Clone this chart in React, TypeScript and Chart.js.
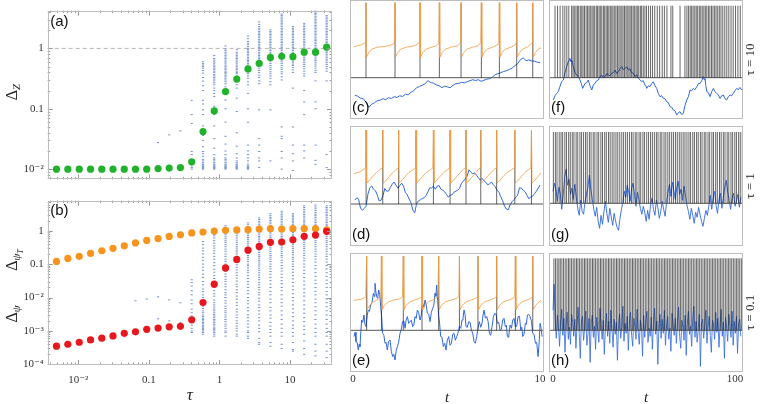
import React, { useEffect, useRef } from "react";
import { Chart, registerables } from "chart.js";

const SERIF = '"Liberation Serif", "DejaVu Serif", serif';
const SANS = '"Liberation Sans", Arial, sans-serif';
const FRAME = "#bdbdbd";

// ================= LEFT PANELS (a), (b) =================
const tau = [0.0049, 0.0071, 0.0103, 0.0149, 0.0215, 0.031, 0.0448, 0.0646, 0.0932, 0.135, 0.194, 0.28, 0.405, 0.585, 0.844, 1.22, 1.76, 2.54, 3.66, 5.28, 7.63, 11.0, 15.9, 23.0, 33.1];
const deltaZ = [0.01, 0.01, 0.01, 0.01, 0.01, 0.01, 0.01, 0.01, 0.01, 0.0102, 0.0104, 0.0106, 0.01325, 0.042, 0.092, 0.193, 0.31, 0.457, 0.565, 0.71, 0.74, 0.73, 0.865, 0.865, 1.05];
const deltaPsiT = [0.12, 0.147, 0.17, 0.21, 0.25, 0.295, 0.35, 0.43, 0.51, 0.58, 0.67, 0.75, 0.855, 0.91, 0.97, 1.02, 1.05, 1.07, 1.12, 1.14, 1.12, 1.14, 1.14, 1.14, 1.05];
const deltaPsi = [3.5e-4, 4.0e-4, 4.6e-4, 5.4e-4, 6.1e-4, 7.1e-4, 8.5e-4, 9.4e-4, 1.12e-3, 1.22e-3, 1.33e-3, 1.38e-3, 2.15e-3, 7.1e-3, 0.025, 0.0766, 0.138, 0.26, 0.337, 0.447, 0.457, 0.53, 0.675, 0.74, 0.955];

const spreadZ: number[][] = [
  [], [], [], [], [], [], [], [], [],
  [0.0275],
  [0.037],
  [0.043],
  [0.01, 0.0106, 0.0113, 0.0121, 0.0128, 0.014, 0.0174, 0.0196, 0.057, 0.08, 0.138],
  [0.01, 0.0103, 0.0106, 0.011, 0.0113, 0.0117, 0.0121, 0.0128, 0.0137, 0.0145, 0.0163, 0.018, 0.0196, 0.0235, 0.03, 0.036, 0.052, 0.08, 0.096, 0.12, 0.138, 0.2, 0.24, 0.287, 0.33, 0.39, 0.43, 0.47, 0.5, 0.53, 0.56, 0.6],
  [0.01, 0.0103, 0.0106, 0.011, 0.0113, 0.0117, 0.0121, 0.0128, 0.0137, 0.0145, 0.0153, 0.0174, 0.0222, 0.032, 0.052, 0.08, 0.11, 0.16, 0.18, 0.2, 0.22, 0.25, 0.27, 0.29, 0.31, 0.33, 0.35, 0.37, 0.4, 0.42, 0.45, 0.47, 0.5, 0.53, 0.57, 0.6, 0.64, 0.68, 0.76],
  [0.01, 0.0103, 0.0106, 0.011, 0.0113, 0.0117, 0.0121, 0.0128, 0.0137, 0.0145, 0.0153, 0.0174, 0.02, 0.026, 0.035, 0.06, 0.1, 0.14, 0.2, 0.23, 0.26, 0.28, 0.3, 0.32, 0.34, 0.36, 0.38, 0.4, 0.42, 0.45, 0.47, 0.5, 0.53, 0.57, 0.6, 0.64, 0.68, 0.72, 0.76, 0.81, 0.86, 0.92, 0.98, 1.1],
  [0.01, 0.0103, 0.0106, 0.011, 0.0113, 0.0117, 0.0121, 0.0128, 0.0137, 0.0153, 0.018, 0.024, 0.04, 0.09, 0.15, 0.22, 0.25, 0.28, 0.3, 0.33, 0.35, 0.38, 0.4, 0.42, 0.45, 0.47, 0.5, 0.53, 0.57, 0.6, 0.64, 0.68, 0.72, 0.76, 0.81, 0.86, 0.95],
  [0.01, 0.0103, 0.0106, 0.011, 0.0113, 0.0121, 0.0137, 0.0153, 0.0174, 0.02, 0.025, 0.06, 0.1, 0.18, 0.25, 0.28, 0.32, 0.35, 0.38, 0.41, 0.44, 0.47, 0.5, 0.53, 0.56, 0.6, 0.63, 0.67, 0.7, 0.75, 0.8, 0.85, 0.9, 0.95, 1.0, 1.07, 1.15, 1.22, 1.3, 1.45, 1.6],
  [0.0106, 0.0137, 0.0153, 0.0196, 0.025, 0.032, 0.096, 0.26, 0.29, 0.33, 0.36, 0.4, 0.43, 0.47, 0.5, 0.53, 0.57, 0.6, 0.64, 0.68, 0.72, 0.76, 0.81, 0.86, 0.92, 0.98, 1.04, 1.1, 1.17, 1.25, 1.32, 1.4, 1.5, 1.6, 1.7, 1.8, 1.9, 2.03, 2.15, 2.3, 2.5, 2.75],
  [0.0137, 0.096, 0.25, 0.28, 0.32, 0.35, 0.38, 0.41, 0.45, 0.48, 0.52, 0.56, 0.6, 0.64, 0.68, 0.72, 0.76, 0.81, 0.86, 0.92, 0.98, 1.04, 1.1, 1.17, 1.25, 1.32, 1.4, 1.5, 1.6, 1.7, 1.8, 1.9, 2.03],
  [0.01, 0.0153, 0.0196, 0.032, 0.035, 0.05, 0.3, 0.34, 0.38, 0.41, 0.45, 0.48, 0.52, 0.56, 0.6, 0.64, 0.68, 0.72, 0.76, 0.81, 0.86, 0.92, 0.98, 1.04, 1.1, 1.17, 1.25, 1.32, 1.4, 1.5, 1.6, 1.7, 1.8, 1.9, 2.03, 2.15, 2.3, 2.45, 2.6, 2.75, 2.93, 3.1, 3.3, 3.5, 3.7],
  [0.0095, 0.0137, 0.018, 0.025, 0.05, 0.22, 0.4, 0.44, 0.48, 0.52, 0.55, 0.59, 0.62, 0.66, 0.7, 0.74, 0.78, 0.82, 0.86, 0.92, 0.98, 1.04, 1.1, 1.17, 1.25, 1.32, 1.4, 1.5, 1.6, 1.7, 1.8, 1.9, 2.03, 2.15, 2.3],
  [0.0153, 0.02, 0.025, 0.08, 0.13, 0.2, 0.35, 0.38, 0.42, 0.46, 0.5, 0.54, 0.58, 0.62, 0.66, 0.7, 0.75, 0.8, 0.85, 0.9, 0.95, 1.02, 1.1, 1.17, 1.25, 1.32, 1.4, 1.5, 1.6, 1.7, 1.8, 1.9, 2.03, 2.15, 2.3, 2.45, 2.6],
  [0.012, 0.014, 0.025, 0.1, 0.13, 0.29, 0.4, 0.43, 0.47, 0.51, 0.55, 0.59, 0.63, 0.67, 0.72, 0.77, 0.82, 0.87, 0.93, 0.99, 1.05, 1.12, 1.2, 1.27, 1.35, 1.42, 1.5, 1.6, 1.7, 1.8, 1.9, 2.02, 2.15, 2.27, 2.4, 2.55, 2.7, 2.85, 3.0, 3.2, 3.4, 3.6, 3.8, 4.0, 4.2],
  [0.0106, 0.0174, 0.29, 0.42, 0.46, 0.5, 0.54, 0.58, 0.62, 0.66, 0.7, 0.75, 0.8, 0.85, 0.9, 0.95, 1.02, 1.1, 1.17, 1.25, 1.32, 1.4, 1.5, 1.6, 1.7, 1.8, 1.9, 2.03, 2.15, 2.3, 2.45, 2.6, 2.75, 2.93, 3.1, 3.3, 3.5],
];

const spreadPsi: number[][] = [
  [], [], [], [], [], [], [],
  [0.008],
  [0.009],
  [0.0105, 0.0023],
  [0.0085, 0.002],
  [0.007, 0.0018, 0.0015],
  [0.034, 0.028, 0.022, 0.016, 0.012, 0.0084, 0.0065, 0.0045, 0.0035, 0.0028, 0.0022, 0.0018, 0.0015, 0.0012, 0.001, 0.0009],
  [0.47, 0.38, 0.3, 0.25, 0.2, 0.16, 0.13, 0.1, 0.08, 0.065, 0.05, 0.04, 0.03, 0.024, 0.018, 0.015, 0.012, 0.01, 0.008, 0.0065, 0.0055, 0.0047, 0.004, 0.0035, 0.003, 0.0027, 0.0024, 0.0022, 0.002, 0.0018, 0.0017, 0.0015, 0.0014, 0.0013, 0.0012, 0.0011, 0.001, 0.0009, 0.0008],
  [0.9, 0.78, 0.7, 0.6, 0.5, 0.42, 0.35, 0.3, 0.25, 0.21, 0.17, 0.14, 0.11, 0.09, 0.07, 0.057, 0.045, 0.037, 0.03, 0.025, 0.02, 0.016, 0.013, 0.011, 0.0084, 0.007, 0.006, 0.0052, 0.0045, 0.004, 0.0035, 0.0031, 0.0028, 0.0025, 0.0022, 0.002, 0.0018, 0.0016, 0.0015, 0.0013, 0.0012, 0.0011, 0.001, 0.0009, 0.0008, 0.0007],
  [1.4, 1.25, 1.1, 0.97, 0.85, 0.75, 0.65, 0.57, 0.5, 0.44, 0.38, 0.33, 0.28, 0.24, 0.2, 0.17, 0.14, 0.12, 0.1, 0.085, 0.07, 0.06, 0.05, 0.042, 0.035, 0.03, 0.025, 0.021, 0.017, 0.014, 0.012, 0.01, 0.008, 0.0068, 0.0055, 0.0047, 0.004, 0.0035, 0.003, 0.0026, 0.0022, 0.0019, 0.0016, 0.0014, 0.0012, 0.001, 0.0009, 0.0007],
  [1.0, 0.9, 0.8, 0.7, 0.6, 0.52, 0.45, 0.39, 0.34, 0.3, 0.26, 0.23, 0.2, 0.17, 0.15, 0.13, 0.11, 0.095, 0.08, 0.067, 0.055, 0.046, 0.038, 0.031, 0.025, 0.021, 0.017, 0.014, 0.011, 0.009, 0.007, 0.0058, 0.0045, 0.0037, 0.003, 0.0025, 0.002, 0.0017, 0.0014, 0.0012, 0.001, 0.0008, 0.0007],
  [1.7, 1.5, 1.3, 1.15, 1.0, 0.9, 0.8, 0.7, 0.62, 0.55, 0.48, 0.42, 0.37, 0.32, 0.28, 0.24, 0.21, 0.18, 0.16, 0.14, 0.12, 0.1, 0.09, 0.077, 0.065, 0.055, 0.045, 0.037, 0.03, 0.025, 0.02, 0.016, 0.013, 0.01, 0.008, 0.0065, 0.005, 0.004, 0.003, 0.0025, 0.002, 0.0016, 0.0013, 0.001, 0.0009, 0.0007, 0.0006],
  [2.4, 2.15, 1.9, 1.7, 1.5, 1.35, 1.2, 1.07, 0.95, 0.85, 0.75, 0.67, 0.6, 0.53, 0.47, 0.42, 0.37, 0.33, 0.29, 0.25, 0.22, 0.19, 0.17, 0.15, 0.13, 0.115, 0.1, 0.087, 0.075, 0.065, 0.055, 0.047, 0.04, 0.034, 0.028, 0.024, 0.02, 0.017, 0.014, 0.012, 0.0095, 0.0078, 0.006, 0.005, 0.004, 0.0032, 0.0025, 0.002, 0.0015, 0.0012, 0.00095, 0.0006, 0.00045, 0.0004],
  [3.2, 2.8, 2.5, 2.25, 2.0, 1.8, 1.6, 1.42, 1.25, 1.12, 1.0, 0.9, 0.8, 0.7, 0.62, 0.55, 0.48, 0.42, 0.37, 0.32, 0.28, 0.24, 0.21, 0.18, 0.16, 0.14, 0.12, 0.1, 0.085, 0.072, 0.06, 0.05, 0.04, 0.032, 0.025, 0.02, 0.015, 0.012, 0.009, 0.007, 0.005, 0.004, 0.003, 0.0024, 0.0018, 0.0014, 0.0011, 0.0009, 0.0007, 0.00045, 0.00035],
  [3.8, 3.4, 3.0, 2.7, 2.4, 2.15, 1.9, 1.7, 1.5, 1.35, 1.2, 1.07, 0.95, 0.85, 0.75, 0.67, 0.6, 0.53, 0.47, 0.42, 0.37, 0.32, 0.28, 0.24, 0.21, 0.18, 0.16, 0.13, 0.11, 0.09, 0.075, 0.062, 0.05, 0.04, 0.032, 0.026, 0.02, 0.016, 0.012, 0.009, 0.007, 0.0055, 0.004, 0.003, 0.0022, 0.0016, 0.0012, 0.0009, 0.0007, 0.0004, 0.0003],
  [3.2, 2.9, 2.6, 2.35, 2.1, 1.9, 1.7, 1.5, 1.35, 1.22, 1.1, 0.98, 0.88, 0.78, 0.7, 0.62, 0.55, 0.49, 0.43, 0.38, 0.33, 0.29, 0.25, 0.22, 0.19, 0.16, 0.14, 0.12, 0.1, 0.085, 0.07, 0.057, 0.045, 0.036, 0.028, 0.022, 0.017, 0.013, 0.01, 0.008, 0.006, 0.0046, 0.0035, 0.0027, 0.002, 0.0015, 0.0012, 0.0009, 0.0007, 0.00045, 0.00028, 0.00025],
  [5.5, 4.9, 4.3, 3.8, 3.4, 3.0, 2.7, 2.4, 2.1, 1.9, 1.7, 1.5, 1.35, 1.2, 1.05, 0.93, 0.82, 0.73, 0.64, 0.57, 0.5, 0.44, 0.38, 0.33, 0.29, 0.25, 0.21, 0.18, 0.15, 0.125, 0.1, 0.082, 0.065, 0.052, 0.04, 0.031, 0.024, 0.018, 0.014, 0.011, 0.008, 0.006, 0.0045, 0.0034, 0.0025, 0.0019, 0.0014, 0.0011, 0.0008, 0.0005, 0.0003, 0.0002],
  [5.8, 5.1, 4.5, 4.0, 3.5, 3.1, 2.8, 2.5, 2.2, 1.95, 1.75, 1.55, 1.4, 1.25, 1.1, 0.97, 0.85, 0.75, 0.66, 0.58, 0.5, 0.44, 0.38, 0.33, 0.28, 0.24, 0.2, 0.17, 0.14, 0.115, 0.09, 0.072, 0.055, 0.043, 0.033, 0.026, 0.02, 0.015, 0.012, 0.009, 0.007, 0.0053, 0.004, 0.003, 0.0022, 0.0016, 0.0012, 0.0009, 0.0007, 0.0004, 0.00025, 0.00018],
  [5.5, 4.9, 4.4, 3.9, 3.5, 3.1, 2.8, 2.5, 2.2, 1.95, 1.75, 1.55, 1.4, 1.25, 1.1, 0.97, 0.85, 0.75, 0.66, 0.58, 0.5, 0.44, 0.38, 0.33, 0.28, 0.24, 0.2, 0.17, 0.14, 0.115, 0.09, 0.072, 0.055, 0.043, 0.033, 0.026, 0.02, 0.015, 0.012, 0.009, 0.007, 0.0053, 0.004, 0.003, 0.0022, 0.0016, 0.0012, 0.0009, 0.0007, 0.0004, 0.00025, 0.00016],
];

const tauTicks = [0.01, 0.1, 1, 10];
const zTicks = [0.01, 0.1, 1];
const psiTicks = [1e-4, 1e-3, 1e-2, 0.1, 1];

// ================= RIGHT PANELS (c)-(h) =================
const spikesC = [0.695, 2.246, 3.583, 4.617, 5.775, 6.862, 7.825, 8.752, 9.608];
const spikesD = [0.70, 1.59, 2.44, 3.37, 4.30, 5.19, 6.04, 6.83, 7.68, 8.65, 9.54];
const spikesE = [0.73, 1.52, 2.69, 3.69, 4.58, 5.69, 6.68, 7.68, 8.68, 9.61];

const orangeC = [
  [0.05, 3.1], [0.45, 3.3], [0.66, 3.5], [0.695, 7.5], [0.72, 2.05], [0.84, 2.5], [1.0, 2.85], [1.3, 3.05], [1.8, 3.15], [2.1, 3.3], [2.21, 3.5],
  [2.246, 7.5], [2.27, 2.05], [2.39, 2.5], [2.55, 2.85], [2.85, 3.05], [3.3, 3.2], [3.55, 3.5],
  [3.583, 7.5], [3.61, 2.05], [3.73, 2.5], [3.9, 2.85], [4.2, 3.05], [4.45, 3.2], [4.585, 3.5],
  [4.617, 7.5], [4.64, 2.05], [4.76, 2.5], [4.93, 2.85], [5.25, 3.05], [5.6, 3.2], [5.745, 3.5],
  [5.775, 7.5], [5.8, 2.05], [5.92, 2.5], [6.08, 2.85], [6.4, 3.05], [6.7, 3.2], [6.83, 3.5],
  [6.862, 7.5], [6.89, 2.05], [7.0, 2.5], [7.17, 2.85], [7.45, 3.05], [7.7, 3.25], [7.795, 3.5],
  [7.825, 7.5], [7.85, 2.05], [7.97, 2.5], [8.13, 2.85], [8.45, 3.05], [8.65, 3.25], [8.72, 3.5],
  [8.752, 7.5], [8.78, 2.05], [8.9, 2.5], [9.06, 2.85], [9.35, 3.1], [9.57, 3.5],
  [9.608, 7.5], [9.635, 2.05], [9.75, 2.5], [9.9, 2.85], [10.05, 3.0],
];
const orangeD = [
  [0.05, 3.05], [0.35, 3.2], [0.55, 3.45], [0.67, 3.6], [0.70, 7.4], [0.73, 2.1], [0.85, 2.3], [1.05, 2.75], [1.25, 3.15], [1.44, 3.45], [1.56, 3.6],
  [1.59, 7.4], [1.62, 2.1], [1.74, 2.3], [1.94, 2.75], [2.14, 3.15], [2.30, 3.45], [2.41, 3.6],
  [2.44, 7.4], [2.47, 2.1], [2.59, 2.3], [2.79, 2.75], [2.99, 3.15], [3.22, 3.45], [3.34, 3.6],
  [3.37, 7.4], [3.40, 2.1], [3.52, 2.3], [3.72, 2.75], [3.92, 3.15], [4.15, 3.45], [4.27, 3.6],
  [4.30, 7.4], [4.33, 2.1], [4.45, 2.3], [4.65, 2.75], [4.85, 3.15], [5.04, 3.45], [5.16, 3.6],
  [5.19, 7.4], [5.22, 2.1], [5.34, 2.3], [5.54, 2.75], [5.74, 3.15], [5.89, 3.45], [6.01, 3.6],
  [6.04, 7.4], [6.07, 2.1], [6.19, 2.3], [6.39, 2.75], [6.59, 3.15], [6.68, 3.45], [6.80, 3.6],
  [6.83, 7.4], [6.86, 2.1], [6.98, 2.3], [7.18, 2.75], [7.38, 3.15], [7.53, 3.45], [7.65, 3.6],
  [7.68, 7.4], [7.71, 2.1], [7.83, 2.3], [8.03, 2.75], [8.23, 3.15], [8.50, 3.45], [8.62, 3.6],
  [8.65, 7.4], [8.68, 2.1], [8.80, 2.3], [9.00, 2.75], [9.20, 3.15], [9.39, 3.45], [9.51, 3.6],
  [9.54, 7.4], [9.57, 2.1], [9.69, 2.3], [9.89, 2.75], [10.05, 3.1],
];
const orangeE = [
  [0.05, 3.0], [0.45, 3.1], [0.68, 3.35], [0.73, 7.43], [0.76, 2.05], [0.88, 2.5], [1.1, 2.85], [1.35, 3.1], [1.49, 3.35],
  [1.52, 7.43], [1.55, 2.05], [1.67, 2.5], [1.9, 2.85], [2.2, 3.05], [2.5, 3.15], [2.65, 3.35],
  [2.69, 7.43], [2.72, 2.05], [2.84, 2.5], [3.05, 2.85], [3.35, 3.05], [3.55, 3.2], [3.66, 3.35],
  [3.69, 7.43], [3.72, 2.05], [3.84, 2.5], [4.05, 2.85], [4.35, 3.1], [4.54, 3.35],
  [4.58, 7.43], [4.61, 2.05], [4.73, 2.5], [4.95, 2.85], [5.3, 3.05], [5.55, 3.2], [5.66, 3.35],
  [5.69, 7.43], [5.72, 2.05], [5.84, 2.5], [6.05, 2.85], [6.35, 3.05], [6.55, 3.2], [6.65, 3.35],
  [6.68, 7.43], [6.71, 2.05], [6.83, 2.5], [7.05, 2.85], [7.35, 3.05], [7.55, 3.2], [7.65, 3.35],
  [7.68, 7.43], [7.71, 2.05], [7.83, 2.5], [8.05, 2.85], [8.35, 3.05], [8.55, 3.2], [8.65, 3.35],
  [8.68, 7.43], [8.71, 2.05], [8.83, 2.5], [9.05, 2.85], [9.35, 3.05], [9.5, 3.2], [9.58, 3.35],
  [9.61, 7.43], [9.64, 2.05], [9.76, 2.5], [9.95, 2.85], [10.05, 3.0],
];

const blueCStart = 0.1;
const blueCStep = 0.15;
const blueC = [-1.75, -1.85, -2.05, -2.1, -2.45, -2.95, -2.65, -2.5, -2.3, -2.25, -2.1, -2.2, -2.0, -2.08, -1.9, -1.98, -1.8, -1.88, -1.65, -1.72, -1.45, -1.3, -1.0, -0.88, -0.75, -0.62, -0.3, -0.48, -0.55, -0.72, -0.8, -1.0, -0.85, -0.92, -1.0, -0.75, -0.6, -0.58, -0.45, -0.52, -0.4, -0.3, -0.2, -0.28, -0.2, -0.36, -0.25, -0.15, -0.1, 0.05, 0.3, 0.4, 0.5, 0.62, 0.7, 0.82, 0.95, 1.2, 1.4, 1.8, 1.98, 1.7, 1.78, 1.68, 1.66, 1.55, 1.5];

const blueDStart = 0.1;
const blueDStep = 0.1;
const blueD = [0.4, 0.62, 0.48, -0.4, -0.62, -0.45, -0.22, 1.0, 1.62, 1.8, 1.48, 1.32, 0.88, 0.3, 0.38, 0.82, 1.55, 1.28, 1.3, 1.68, 1.98, 2.2, 1.88, 1.58, 1.85, 2.08, 1.78, 1.15, 0.92, 0.5, 0.12, -0.6, -0.88, 0.05, 0.32, 0.42, 0.55, 0.62, 0.82, 1.2, 1.62, 1.6, 1.78, 1.48, 1.78, 1.85, 1.48, 1.38, 1.22, 0.95, 0.68, 0.88, 0.92, 1.18, 1.28, 1.38, 1.58, 2.08, 2.28, 2.52, 2.78, 3.42, 3.18, 3.02, 3.12, 2.88, 2.62, 2.38, 2.58, 2.32, 2.18, 1.92, 2.02, 2.2, 1.92, 1.72, 1.38, 1.18, 0.72, 0.32, -0.22, -0.5, -0.58, -0.08, 0.22, 0.42, 0.68, 0.88, 1.62, 1.58, 1.38, 1.22, 0.88, 0.52, 0.72, 0.78, 1.02, 1.28, 1.58, 1.9];

const blueE = [
  [0.05, -0.63], [0.11, -0.2], [0.16, -1.13], [0.22, -1.2], [0.285, -1.97], [0.33, -1.4], [0.374, -1.63], [0.42, -0.1], [0.463, 1.03], [0.52, 0.8], [0.588, 1.53], [0.64, 0.6], [0.695, 0.37], [0.76, 1.5], [0.82, 2.03], [0.88, 1.9], [0.945, 2.53], [1.02, 2.8], [1.088, 3.7], [1.13, 3.4], [1.176, 4.7], [1.22, 3.9], [1.266, 3.37], [1.32, 3.2], [1.373, 4.03], [1.43, 3.6], [1.48, 2.37], [1.53, 1.4], [1.587, -0.3], [1.65, -0.5], [1.711, -1.3], [1.77, -1.2], [1.836, -1.97], [1.9, -1.1], [1.979, -0.97], [2.05, -2.1], [2.121, -2.63], [2.18, -2.4], [2.246, -2.97], [2.31, -2.0], [2.37, -1.63], [2.44, -1.2], [2.513, -0.3], [2.58, 0.1], [2.656, 0.87], [2.72, 0.9], [2.78, 0.2], [2.84, 1.0], [2.906, 1.37], [2.98, 0.7], [3.048, 0.87], [3.12, 1.0], [3.19, 0.37], [3.25, 0.5], [3.315, 1.37], [3.38, 1.2], [3.44, 2.03], [3.51, 1.8], [3.583, 1.03], [3.65, 1.5], [3.725, 2.7], [3.79, 2.3], [3.85, 3.03], [3.91, 2.6], [3.975, 1.7], [4.05, 1.6], [4.118, 0.87], [4.19, 1.8], [4.26, 2.2], [4.32, 2.5], [4.385, 3.7], [4.43, 3.4], [4.474, 4.53], [4.53, 2.9], [4.581, 1.37], [4.63, 0.7], [4.688, -0.63], [4.76, -0.7], [4.83, -1.63], [4.9, -1.3], [4.973, -1.97], [5.04, -1.0], [5.116, -0.63], [5.19, -1.5], [5.258, -1.3], [5.33, -0.4], [5.401, -0.3], [5.47, -1.0], [5.544, -0.63], [5.61, -0.3], [5.686, 0.37], [5.76, 0.2], [5.829, 1.03], [5.88, 1.2], [5.936, 2.03], [5.99, 1.6], [6.043, 0.37], [6.11, 0.3], [6.185, 0.87], [6.26, 0.8], [6.328, 0.03], [6.4, -0.3], [6.471, -1.13], [6.54, -1.3], [6.613, -0.63], [6.68, 0.2], [6.756, 0.87], [6.83, 0.3], [6.898, 0.7], [6.95, 1.5], [7.005, 2.03], [7.08, 1.2], [7.148, 1.37], [7.22, 0.9], [7.291, -0.3], [7.36, -0.5], [7.433, 0.37], [7.5, 1.3], [7.576, 1.7], [7.65, 1.6], [7.718, 0.7], [7.79, 0.8], [7.861, 0.03], [7.93, 0.1], [8.004, 1.03], [8.07, 1.2], [8.146, 0.37], [8.2, 0.5], [8.253, -0.63], [8.32, -0.7], [8.396, 0.53], [8.47, 0.2], [8.538, 1.03], [8.61, 1.2], [8.681, 0.37], [8.75, 0.4], [8.824, 1.37], [8.9, 1.4], [8.966, 0.03], [9.02, 0.3], [9.073, -0.63], [9.14, -0.4], [9.215, 0.7], [9.27, 0.6], [9.322, 1.53], [9.39, 1.6], [9.465, 1.37], [9.54, 0.9], [9.608, -0.3], [9.68, -0.4], [9.75, -1.3], [9.82, -1.2], [9.893, -2.63], [9.95, -1.3], [10.0, 0.7], [10.05, 0.3], [10.107, -0.63],
];

const spikesF = [1.1, 2.5, 3.9, 5.4, 6.5, 7.6, 8.7, 10.2, 11.0, 11.7, 12.6, 13.4, 14.1, 15.0, 15.8, 16.5, 17.3, 18.2, 19.0, 19.8, 20.5, 21.4, 22.1, 22.9, 23.8, 24.5, 25.3, 26.0, 26.8, 27.7, 28.4, 29.2, 30.0, 30.7, 31.5, 32.3, 33.0, 33.9, 34.6, 35.4, 36.2, 36.9, 37.8, 38.5, 39.3, 40.1, 40.8, 41.7, 42.4, 43.2, 44.0, 44.7, 45.6, 46.3, 47.1, 48.0, 48.7, 49.6, 50.5, 51.4, 52.5, 53.6, 54.7, 55.9, 57.3, 58.6, 60.0, 61.2, 62.6, 64.8, 65.8, 69.8, 72.5, 73.6, 74.5, 75.4, 76.2, 77.0, 77.9, 78.7, 79.5, 80.4, 81.2, 82.0, 82.9, 83.7, 84.5, 85.4, 86.2, 87.1, 87.9, 88.8, 89.6, 90.5, 91.4, 92.3, 93.3, 94.4, 95.5, 96.6, 97.8, 99.0, 100.3, 101.6, 102.9];
const spikesG = [0.2, 1.3, 2.2, 3.4, 4.4, 5.3, 6.5, 7.4, 8.6, 9.5, 10.6, 11.5, 12.7, 13.6, 14.8, 15.7, 16.8, 17.9, 18.8, 20.0, 20.9, 22.1, 23.0, 24.2, 25.1, 26.3, 27.2, 28.4, 29.3, 30.5, 31.4, 32.5, 33.5, 34.6, 35.6, 36.7, 37.8, 38.8, 39.9, 40.9, 42.0, 43.1, 44.0, 45.2, 46.1, 47.3, 48.2, 49.4, 50.3, 51.5, 52.5, 53.6, 54.6, 55.7, 56.8, 57.7, 58.9, 59.8, 61.0, 62.0, 63.1, 64.1, 65.2, 66.2, 67.3, 68.3, 69.4, 70.4, 71.5, 72.5, 73.6, 74.7, 75.6, 76.8, 77.7, 78.9, 79.8, 81.0, 81.9, 83.1, 84.0, 85.2, 86.1, 87.3, 88.2, 89.4, 90.3, 91.5, 92.4, 93.6, 94.5, 95.7, 96.6, 97.8, 98.7, 99.9, 100.8, 102.0, 102.9, 104.0];
const spikesH = [0.5, 1.4, 2.3, 3.2, 4.0, 4.9, 5.8, 6.7, 7.6, 8.5, 9.3, 10.2, 11.1, 12.0, 12.9, 13.7, 14.6, 15.5, 16.4, 17.3, 18.1, 19.0, 19.9, 20.8, 21.7, 22.5, 23.4, 24.3, 25.2, 26.1, 26.9, 27.8, 28.7, 29.6, 30.5, 31.3, 32.2, 33.1, 34.0, 34.9, 35.7, 36.6, 37.5, 38.4, 39.3, 40.1, 41.0, 41.9, 42.8, 43.7, 44.5, 45.4, 46.3, 47.2, 48.1, 48.9, 49.8, 50.7, 51.6, 52.5, 53.3, 54.2, 55.1, 56.0, 56.9, 57.7, 58.6, 59.5, 60.4, 61.3, 62.1, 63.0, 63.9, 64.8, 65.7, 66.5, 67.4, 68.3, 69.2, 70.1, 70.9, 71.8, 72.7, 73.6, 74.5, 75.3, 76.2, 77.1, 78.0, 78.9, 79.7, 80.6, 81.5, 82.4, 83.3, 84.1, 85.0, 85.9, 86.8, 87.7, 88.5, 89.4, 90.3, 91.2, 92.1, 92.9, 93.8, 94.7, 95.6, 96.5, 97.3, 98.2, 99.1, 100.0, 100.9, 101.7, 102.6, 103.5];

const blueF = [
  [0.2, -2.23], [1.1, -1.8], [2.0, -1.57], [2.9, -1.4], [3.8, -0.9], [4.7, -0.4], [5.7, -0.23], [6.6, 0.5], [7.5, 1.1], [8.4, 1.6], [9.3, 1.93], [9.8, 1.6], [10.3, 1.77], [10.8, 1.3], [11.2, 1.1], [12.1, 0.5], [13.0, 0.27], [13.9, 0.1], [14.8, -0.23], [15.6, -0.6], [16.3, -1.07], [17.0, -0.8], [17.6, -0.57], [18.5, -0.5], [19.4, -0.23], [20.3, -0.8], [21.3, -1.23], [22.2, -0.7], [23.1, -0.57], [24.0, -0.3], [24.9, -0.23], [25.8, 0.1], [26.7, 0.27], [27.6, 0.0], [28.6, 0.1], [29.5, 0.4], [30.4, 0.27], [31.3, 0.2], [32.2, 0.43], [33.1, 0.5], [34.1, 0.77], [35.0, 0.4], [35.9, 0.6], [36.8, 0.9], [37.7, 1.1], [38.6, 0.8], [39.6, 0.93], [40.5, 1.1], [41.4, 0.77], [42.3, 0.9], [43.2, 0.5], [44.1, 0.45], [45.1, 0.1], [46.0, 0.3], [46.9, -0.07], [47.8, -0.2], [48.7, -0.4], [49.6, -0.3], [50.5, -0.73], [51.0, -0.8], [51.5, -1.07], [52.4, -0.8], [53.3, -0.9], [54.2, -0.6], [55.1, -0.4], [56.0, -0.8], [57.0, -1.07], [57.9, -1.6], [58.8, -1.9], [59.7, -1.8], [60.6, -2.07], [61.5, -2.1], [62.5, -2.4], [63.4, -2.5], [64.3, -2.9], [65.2, -2.95], [66.1, -3.23], [67.0, -3.3], [68.0, -3.73], [68.9, -3.5], [69.8, -3.4], [70.7, -3.7], [71.6, -3.57], [72.5, -2.8], [73.5, -2.23], [74.4, -1.9], [75.3, -1.23], [76.2, -1.3], [77.1, -1.07], [78.0, -1.2], [79.0, -0.9], [79.9, -0.6], [80.8, -0.57], [81.7, -0.3], [82.6, 0.1], [83.0, -0.2], [83.5, -0.07], [84.0, -0.8], [84.5, -1.4], [85.4, -1.5], [86.3, -1.9], [87.2, -1.4], [88.1, -1.07], [89.0, -1.4], [89.9, -1.57], [90.8, -1.7], [91.8, -2.07], [92.7, -1.8], [93.6, -1.73], [94.5, -2.1], [95.4, -2.23], [96.3, -1.9], [97.3, -1.73], [98.2, -1.8], [99.1, -1.57], [100.0, -1.3], [100.9, -1.07], [101.8, -1.2], [102.7, -0.97], [103.7, -1.23],
];

const blueGStart = 0;
const blueGStep = 0.8;
const blueG = [
  1.2, 2.0, 1.4, 0.2, 1.6, 1.0, -0.6, 0.8, 2.6, 3.4, 1.8, 2.4, 0.9, 1.5, 0.4, 1.9, 0.6,
  -0.5, -1.2, 0.3, -0.8, -1.1, 0.2, 0.9, 1.6, 2.8, 1.4, 0.4,
  -0.6, -1.3, -0.4, -1.8, -2.5, -1.2, -2.1, -0.8, 0.2, -1.0, -1.9, -0.5, -1.4, -2.2, -1.0, -1.8, -2.4, -2.7, -1.5, -0.6, 0.1,
  1.2, 0.6, 1.8, 1.1, 0.2, 1.5, 2.0, 0.8, -0.3, 1.1, 0.4, -0.5,
  -1.1, -0.3, -0.9, -1.8, -0.7, -1.6, -0.2, 0.5, -0.6, -1.2, 0.3, -0.4, -1.5, -0.8, 0.2, -0.6, -1.3, 0.1,
  1.1, 1.9, 0.7, 2.1, 1.3, 0.4, 1.6, 2.2, 0.9, 1.4, 0.3, 1.7, 0.8, -0.2,
  -0.8, -1.6, -0.5, -1.2, -2.0, -0.9, -1.4, -0.4, -1.1, -1.8, -2.3, -1.5, -0.7, -1.2,
  -0.3, 0.8, -0.6, 0.5, 1.2, -0.2, -1.0, 0.4, 1.0, -0.5, 0.6, 1.6, 2.3, 1.1,
  0.3, -0.6, 0.5, 1.0, -0.3, 0.2, 0.9, -0.4, 0.6,
];

const blueHStart = 0;
const blueHStep = 0.6;
const blueH = [
  2.0, 4.6, 1.2, -0.8, 1.5, 0.4, -1.6, 0.9, 2.1, -0.5, 1.2, -2.2, 0.6, 1.8, -0.9, 0.3, -1.4, 1.6, 0.8, -0.6,
  1.1, -1.8, 0.5, 2.3, -0.3, -2.8, 0.9, 1.4, -1.0, 0.2, 1.9, -1.5, -0.4, 1.2, -3.2, 0.7, 1.5, -0.7, 0.4, -1.9,
  1.3, 0.1, -1.2, 2.2, 0.6, -0.9, 1.0, -2.4, 0.3, 1.7, -0.6, 0.9, -1.3, 2.0, 0.2, -1.7, 1.1, -0.4, 0.8, -3.0,
  0.5, 1.6, -0.8, 0.3, 2.4, -1.1, 0.7, -0.3, 1.4, -2.0, 0.9, 1.8, -0.5, -1.6, 1.2, 0.4, -0.9, 2.1, -0.2, -1.4,
  1.0, 0.3, -2.6, 1.5, -0.7, 0.8, 1.9, -1.2, 0.2, -0.6, 1.3, -1.9, 0.6, 2.2, -0.4, 0.9, -3.4, 0.4, 1.6, -0.8,
  1.1, -0.3, 2.0, -1.5, 0.5, 1.4, -0.9, 0.2, -2.1, 1.7, 0.6, -0.5, 1.2, -1.3, 0.8, 2.3, -0.6, -1.8, 1.0, 0.3,
  -1.0, 1.5, -2.5, 0.7, 1.9, -0.4, 0.4, -1.6, 1.3, 2.4, -0.7, 0.9, -1.2, 0.1, 1.6, -3.6, 0.6, 1.1, -0.8, 0.5,
  2.0, -1.3, 0.3, 1.4, -0.5, -2.2, 1.0, 0.6, -0.9, 1.8, -0.2, 1.2, -1.7, 0.4, 2.1, -0.6, 0.8, -2.8, 1.3, 0.2,
  -1.1, 1.6, 0.5, -0.7, 1.9, -1.5, 0.9, -0.3, 1.4, -2.3, 0.7, 1.1, -0.6,
];

const shortTicks = [0, 10];
const longTicks = [0, 100];
const sideLabels = ["τ = 10", "τ = 1", "τ = 0.1"];

// ================= helpers =================
const SUP: Record<string, string> = { "-": "⁻", "0": "⁰", "1": "¹", "2": "²", "3": "³", "4": "⁴" };
function logLabel(v: number) {
  if (v >= 0.1) return String(v);
  const e = Math.round(Math.log10(v));
  return "10" + String(e).split("").map((c) => SUP[c] || c).join("");
}

type Part = { text: string; font: string; dy?: number };
type Lbl = { parts: Part[]; x: number; y: number; rot?: number; align?: "left" | "center"; ref?: "tl" | "bl" | "canvas"; color?: string };

function drawRich(ctx: CanvasRenderingContext2D, lb: Lbl, a: any) {
  let bx = lb.x, by = lb.y;
  if (lb.ref === "tl") { bx = a.left + lb.x; by = a.top + lb.y; }
  if (lb.ref === "bl") { bx = a.left + lb.x; by = a.bottom + lb.y; }
  ctx.save();
  ctx.translate(bx, by);
  if (lb.rot) ctx.rotate(lb.rot);
  ctx.textBaseline = "alphabetic";
  ctx.fillStyle = lb.color || "#222";
  const widths = lb.parts.map((p) => { ctx.font = p.font; return ctx.measureText(p.text).width; });
  const total = widths.reduce((s, w) => s + w, 0);
  let x = lb.align === "center" ? -total / 2 : 0;
  lb.parts.forEach((p, i) => { ctx.font = p.font; ctx.fillText(p.text, x, p.dy || 0); x += widths[i]; });
  ctx.restore();
}

const decorPlugin = {
  id: "decor",
  afterDatasetsDraw(chart: any, _args: any, opts: any) {
    const { ctx, chartArea: a } = chart;
    if (!a || !opts) return;
    ctx.save();
    if (opts.logTicks) {
      ctx.strokeStyle = "#9a9a9a";
      ctx.lineWidth = 1;
      ctx.beginPath();
      for (const id of ["x", "y"]) {
        const s = chart.scales[id];
        const e0 = Math.floor(Math.log10(s.min)), e1 = Math.ceil(Math.log10(s.max));
        for (let e = e0; e <= e1; e++) {
          for (let m = 1; m <= 9; m++) {
            const v = m * Math.pow(10, e);
            if (v < s.min || v > s.max) continue;
            const p = Math.round(s.getPixelForValue(v)) + 0.5;
            const len = m === 1 ? 5 : 2.5;
            if (id === "x") {
              ctx.moveTo(p, a.bottom); ctx.lineTo(p, a.bottom - len);
              ctx.moveTo(p, a.top); ctx.lineTo(p, a.top + len);
            } else {
              ctx.moveTo(a.left, p); ctx.lineTo(a.left + len, p);
              ctx.moveTo(a.right, p); ctx.lineTo(a.right - len, p);
            }
          }
        }
      }
      ctx.stroke();
    }
    if (opts.frame) {
      ctx.strokeStyle = opts.frame;
      ctx.lineWidth = 1;
      const l = Math.round(a.left) + 0.5, t = Math.round(a.top) + 0.5;
      const r = Math.round(a.right) - 0.5, b = Math.round(a.bottom) - 0.5;
      ctx.strokeRect(l, t, r - l, b - t);
    }
    for (const lb of opts.labels || []) drawRich(ctx, lb, a);
    ctx.restore();
  },
};

Chart.register(...registerables, decorPlugin as any);

type Box = { left: number; top: number; width: number; height: number };

function ChartCanvas({ box, make }: { box: Box; make: () => any }) {
  const ref = useRef<HTMLCanvasElement>(null);
  useEffect(() => {
    const chart = new Chart(ref.current as HTMLCanvasElement, make());
    return () => chart.destroy();
  }, []);
  return (
    <canvas
      ref={ref}
      width={box.width}
      height={box.height}
      style={{ position: "absolute", left: box.left, top: box.top, width: box.width, height: box.height }}
    />
  );
}

const XMIN_TAU = 0.00368;
const XMAX_TAU = 39.4;

function spreadPoints(spread: number[][]) {
  const pts: { x: number; y: number }[] = [];
  spread.forEach((col, k) => col.forEach((v) => pts.push({ x: tau[k], y: v })));
  return pts;
}

const SCATTER_BLUE = "#7393cc";
const scatterStyle = {
  pointStyle: "line",
  pointRadius: 1.1,
  pointBorderWidth: 1,
  borderColor: SCATTER_BLUE,
  pointBorderColor: SCATTER_BLUE,
  backgroundColor: SCATTER_BLUE,
};

const yTitleFont = `16px ${SERIF}`;
const ySubFont = `italic 11px ${SERIF}`;

function yAxis(min: number, max: number, ticks: number[]) {
  return {
    type: "logarithmic",
    min, max,
    afterFit: (s: any) => { s.width = 47.7; },
    afterBuildTicks: (s: any) => { s.ticks = ticks.map((v) => ({ value: v })); },
    grid: { display: false, drawTicks: false },
    border: { display: false },
    ticks: { callback: (v: any) => logLabel(Number(v)), font: { family: SERIF, size: 11 }, color: "#333", padding: 4, autoSkip: false },
  };
}

function makeA() {
  return {
    type: "scatter",
    data: {
      datasets: [
        { data: tau.map((t, i) => ({ x: t, y: deltaZ[i] })), pointRadius: 3.6, pointBorderWidth: 0, backgroundColor: "#20b22a", pointBackgroundColor: "#20b22a", order: 0 },
        { data: spreadPoints(spreadZ), ...scatterStyle, order: 1 },
        { data: [{ x: XMIN_TAU, y: 1 }, { x: XMAX_TAU, y: 1 }], showLine: true, borderColor: "#b5b5b5", borderWidth: 1, borderDash: [4, 3], pointRadius: 0, order: 2 },
      ],
    },
    options: {
      animation: false, responsive: false, events: [],
      layout: { padding: { top: 6.7, right: 8, bottom: 7.7, left: 0 } },
      plugins: {
        legend: { display: false }, tooltip: { enabled: false },
        decor: {
          frame: FRAME, logTicks: true,
          labels: [
            { parts: [{ text: "(a)", font: `15px ${SANS}` }], x: 2.5, y: 15, ref: "tl", color: "#111" },
            { parts: [{ text: "Δ", font: yTitleFont }, { text: "Z", font: ySubFont, dy: 3 }], x: 17, y: 92, rot: -Math.PI / 2, align: "center", ref: "canvas" },
          ],
        },
      },
      scales: {
        x: { type: "logarithmic", min: XMIN_TAU, max: XMAX_TAU, display: false },
        y: yAxis(0.00676, 4.23, zTicks),
      },
    },
  };
}

function makeB() {
  return {
    type: "scatter",
    data: {
      datasets: [
        { data: tau.map((t, i) => ({ x: t, y: deltaPsi[i] })), pointRadius: 3.6, pointBorderWidth: 0, backgroundColor: "#e8171d", pointBackgroundColor: "#e8171d", order: 0 },
        { data: tau.map((t, i) => ({ x: t, y: deltaPsiT[i] })), pointRadius: 3.6, pointBorderWidth: 0, backgroundColor: "#f7941e", pointBackgroundColor: "#f7941e", order: 1 },
        { data: spreadPoints(spreadPsi), ...scatterStyle, order: 2 },
      ],
    },
    options: {
      animation: false, responsive: false, events: [],
      layout: { padding: { top: 1.7, right: 8, bottom: 0, left: 0 } },
      plugins: {
        legend: { display: false }, tooltip: { enabled: false },
        decor: {
          frame: FRAME, logTicks: true,
          labels: [
            { parts: [{ text: "(b)", font: `15px ${SANS}` }], x: 2.5, y: 14, ref: "tl", color: "#111" },
            { parts: [{ text: "Δ", font: yTitleFont }, { text: "ψ", font: ySubFont, dy: 3 }], x: 17, y: 124, rot: -Math.PI / 2, align: "center", ref: "canvas" },
            { parts: [{ text: "Δ", font: yTitleFont }, { text: "ψ", font: ySubFont, dy: 3 }, { text: "T", font: `italic 8px ${SERIF}`, dy: 6 }], x: 17, y: 70, rot: -Math.PI / 2, align: "center", ref: "canvas" },
          ],
        },
      },
      scales: {
        x: {
          type: "logarithmic", min: XMIN_TAU, max: XMAX_TAU, position: "bottom",
          afterFit: (s: any) => { s.height = 39; },
          afterBuildTicks: (s: any) => { s.ticks = tauTicks.map((v) => ({ value: v })); },
          grid: { display: false, drawTicks: false },
          border: { display: false },
          ticks: { callback: (v: any) => logLabel(Number(v)), font: { family: SERIF, size: 11 }, color: "#333", padding: 9, autoSkip: false, maxRotation: 0 },
          title: { display: true, text: "τ", font: { family: SERIF, size: 17, style: "italic", lineHeight: 1 }, color: "#222", padding: { top: 0, bottom: 0 } },
        },
        y: yAxis(9.6e-5, 7.9, psiTicks),
      },
    },
  };
}

type TraceSpec = {
  pad: { left: number; right: number; top: number; bottom: number };
  xMin: number; xMax: number; yMin: number; yMax: number;
  spikes: number[]; spikeTop: number;
  orange?: number[][];
  blue: { x: number; y: number }[];
  blueWidth: number;
  label: string;
  xTicks?: number[];
  side?: string;
  sideX?: number;
  sideY?: number;
};

function uniform(start: number, step: number, vals: number[]) {
  return vals.map((v, i) => ({ x: start + i * step, y: v }));
}
function pairs(vals: number[][]) {
  return vals.map(([x, y]) => ({ x, y }));
}

function traceConfig(s: TraceSpec) {
  const datasets: any[] = [];
  if (s.orange) datasets.push({ data: pairs(s.orange), borderColor: "rgba(243,158,66,0.82)", borderWidth: 1, pointRadius: 0, order: 0 });
  datasets.push({
    data: s.spikes.flatMap((t) => [{ x: t, y: 0 }, { x: t, y: s.spikeTop }, { x: t, y: null }]),
    borderColor: "rgba(25,25,25,0.66)", borderWidth: 1, pointRadius: 0, spanGaps: false, order: 1,
  });
  datasets.push({ data: [{ x: s.xMin, y: 0 }, { x: s.xMax, y: 0 }], borderColor: "#555", borderWidth: 1, pointRadius: 0, order: 2 });
  datasets.push({ data: s.blue, borderColor: "#3068da", borderWidth: s.blueWidth, pointRadius: 0, order: 3 });

  const labels: Lbl[] = [{ parts: [{ text: s.label, font: `15px ${SANS}` }], x: 2, y: -7, ref: "bl", color: "#111" }];
  if (s.side) labels.push({ parts: [{ text: s.side, font: `13px ${SERIF}` }], x: s.sideX || 0, y: s.sideY || 0, rot: -Math.PI / 2, align: "center", ref: "canvas", color: "#222" });

  const showX = !!s.xTicks;
  return {
    type: "line",
    data: { datasets },
    options: {
      animation: false, responsive: false, events: [],
      layout: { padding: s.pad },
      plugins: { legend: { display: false }, tooltip: { enabled: false }, decor: { frame: FRAME, labels } },
      scales: {
        x: showX
          ? {
              type: "linear", min: s.xMin, max: s.xMax, position: "bottom",
              afterFit: (sc: any) => { sc.height = 32; },
              afterBuildTicks: (sc: any) => { sc.ticks = (s.xTicks as number[]).map((v) => ({ value: v })); },
              grid: { display: false, drawTicks: false },
              border: { display: false },
              ticks: { font: { family: SERIF, size: 11 }, color: "#333", padding: 1, autoSkip: false, maxRotation: 0 },
              title: { display: true, text: "t", font: { family: SERIF, size: 15, style: "italic", lineHeight: 1 }, color: "#222", padding: { top: 0, bottom: -2 } },
            }
          : { type: "linear", min: s.xMin, max: s.xMax, display: false },
        y: { type: "linear", min: s.yMin, max: s.yMax, display: false },
      },
    },
  };
}

// layout boxes (page pixels)
const boxA: Box = { left: 0, top: 0, width: 340, height: 190 };
const boxB: Box = { left: 0, top: 190, width: 340, height: 214 };
const boxC: Box = { left: 350, top: 0, width: 194, height: 119 };
const boxD: Box = { left: 350, top: 126, width: 194, height: 120 };
const boxE: Box = { left: 340, top: 253, width: 214, height: 151 };
const boxF: Box = { left: 549, top: 0, width: 211, height: 119 };
const boxG: Box = { left: 549, top: 126, width: 211, height: 120 };
const boxH: Box = { left: 539, top: 253, width: 221, height: 151 };

const P0 = { left: 0, right: 0, top: 0, bottom: 0 };

export default function App() {
  return (
    <div style={{ position: "absolute", left: 0, top: 0, width: 760, height: 404, background: "#fff", overflow: "hidden" }}>
      <ChartCanvas box={boxA} make={makeA} />
      <ChartCanvas box={boxB} make={makeB} />
      <ChartCanvas box={boxC} make={() => traceConfig({ pad: P0, xMin: -0.16, xMax: 10.21, yMin: -4.13, yMax: 7.77, spikes: spikesC, spikeTop: 7.5, orange: orangeC, blue: uniform(blueCStart, blueCStep, blueC), blueWidth: 1, label: "(c)" })} />
      <ChartCanvas box={boxD} make={() => traceConfig({ pad: P0, xMin: -0.16, xMax: 10.21, yMin: -4.2, yMax: 7.8, spikes: spikesD, spikeTop: 7.4, orange: orangeD, blue: uniform(blueDStart, blueDStep, blueD), blueWidth: 1, label: "(d)" })} />
      <ChartCanvas box={boxE} make={() => traceConfig({ pad: { left: 10, right: 10, top: 0, bottom: 0 }, xMin: -0.16, xMax: 10.21, yMin: -4.17, yMax: 7.73, spikes: spikesE, spikeTop: 7.43, orange: orangeE, blue: pairs(blueE), blueWidth: 1, label: "(e)", xTicks: shortTicks })} />
      <ChartCanvas box={boxF} make={() => traceConfig({ pad: { left: 0, right: 17, top: 0, bottom: 0 }, xMin: -2.2, xMax: 104.4, yMin: -4.13, yMax: 7.77, spikes: spikesF, spikeTop: 7.2, blue: pairs(blueF), blueWidth: 1, label: "(f)", side: sideLabels[0], sideX: 205, sideY: 59.5 })} />
      <ChartCanvas box={boxG} make={() => traceConfig({ pad: { left: 0, right: 17, top: 0, bottom: 0 }, xMin: -2.2, xMax: 104.4, yMin: -4.27, yMax: 7.73, spikes: spikesG, spikeTop: 7.13, blue: uniform(blueGStart, blueGStep, blueG), blueWidth: 0.9, label: "(g)", side: sideLabels[1], sideX: 205, sideY: 60 })} />
      <ChartCanvas box={boxH} make={() => traceConfig({ pad: { left: 10, right: 17, top: 0, bottom: 0 }, xMin: -2.2, xMax: 104.4, yMin: -4.17, yMax: 7.73, spikes: spikesH, spikeTop: 7.2, blue: uniform(blueHStart, blueHStep, blueH), blueWidth: 0.8, label: "(h)", xTicks: longTicks, side: sideLabels[2], sideX: 215, sideY: 59.5 })} />
    </div>
  );
}
